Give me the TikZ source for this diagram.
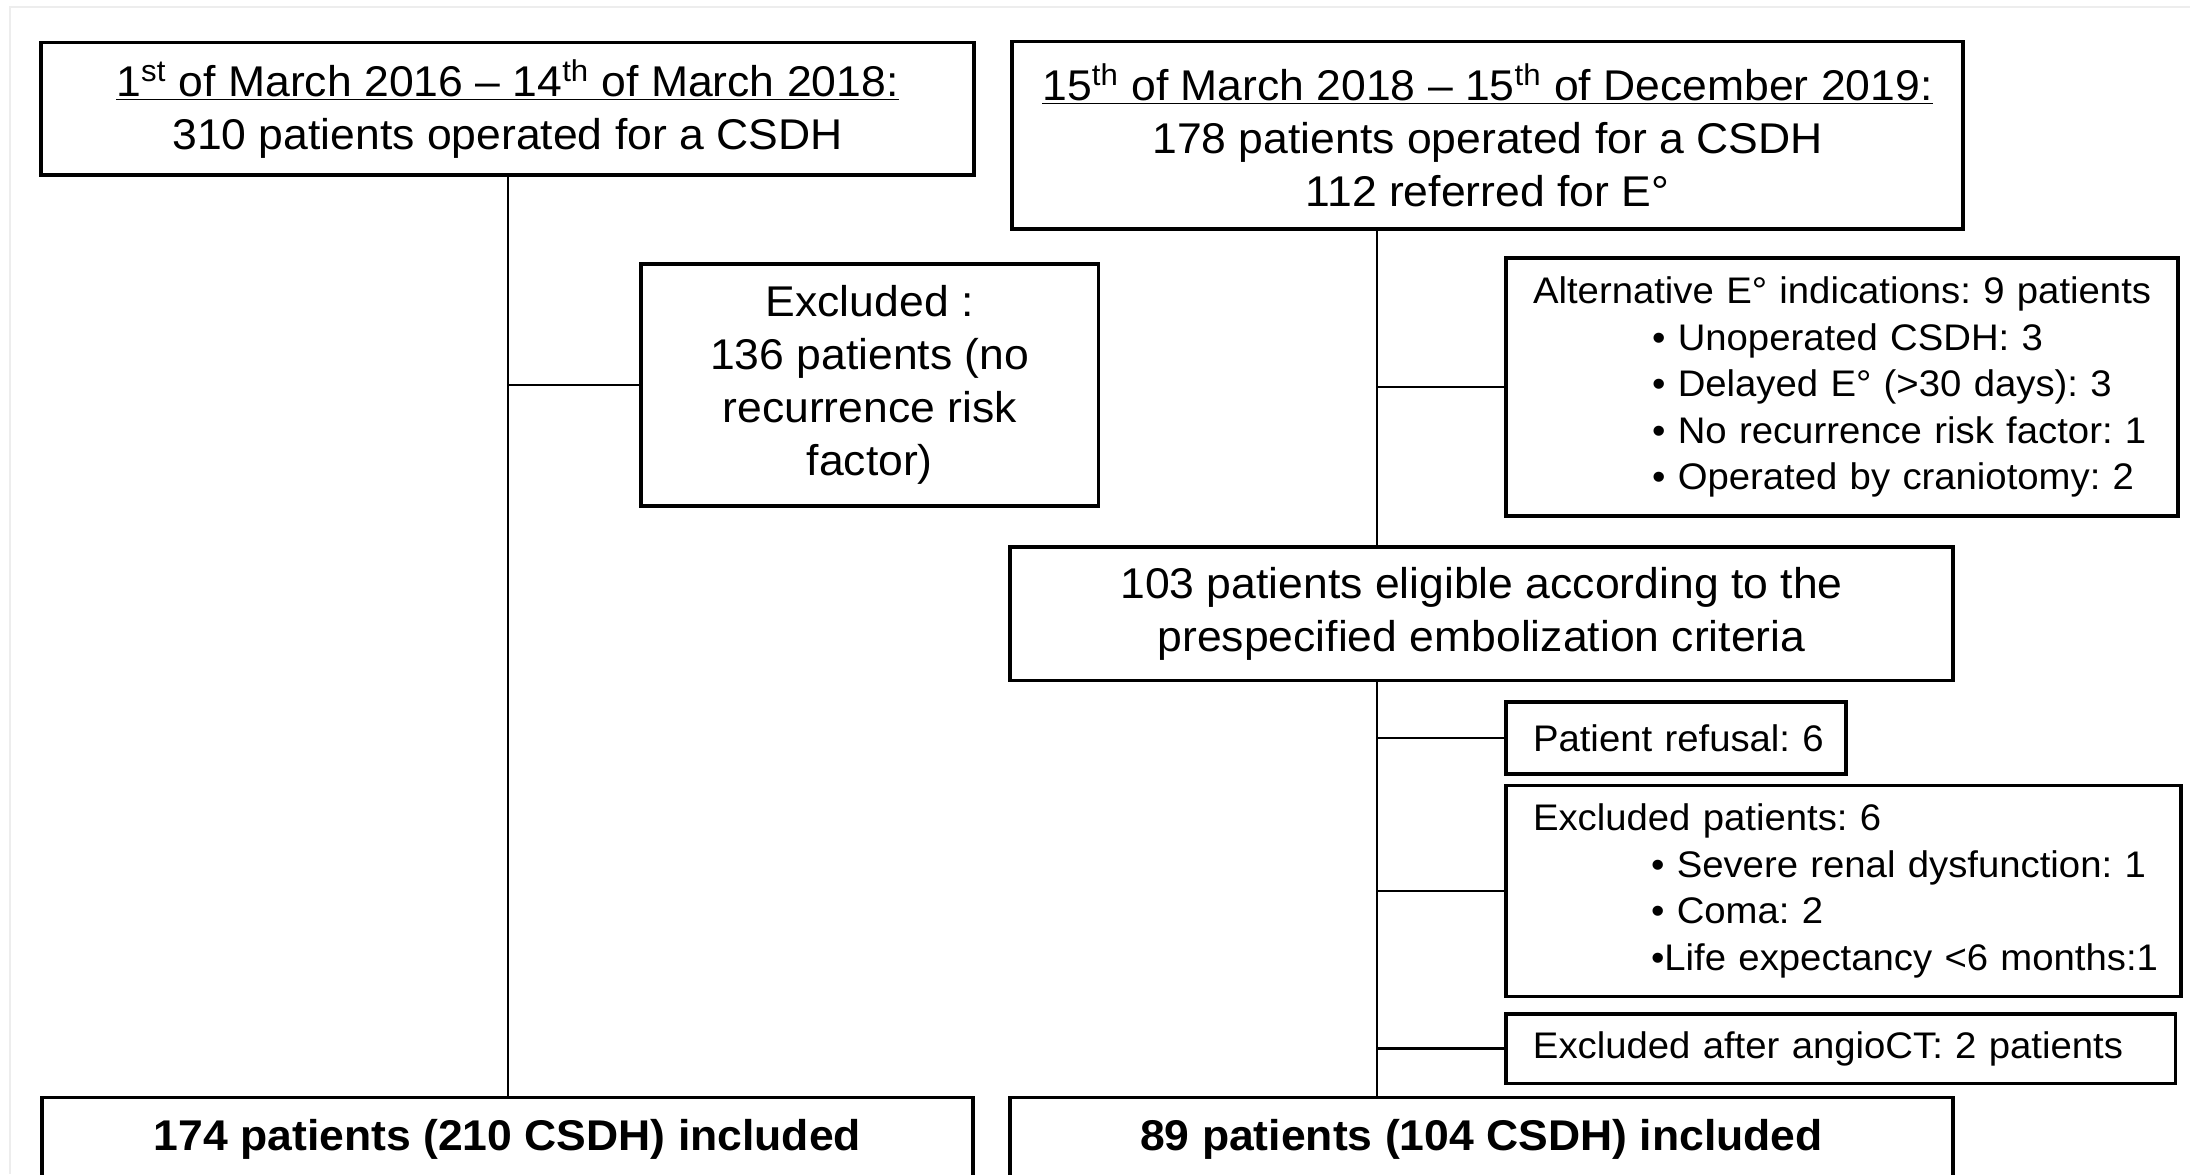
\documentclass[tikz,border=0pt]{standalone}
\usepackage{fontspec}
\setmainfont{Liberation Sans}[FakeStretch=1.035]
\newcommand\oneline[1]{\mbox{#1}}
\begin{document}
\frenchspacing
\begin{tikzpicture}[x=0.5pt,y=-0.5pt,
  mainbox/.style={draw=black, line width=1.75pt, inner sep=0pt, align=center,
    font=\fontsize{21.5}{26.5}\selectfont},
  listbox/.style={draw=black, line width=1.75pt, inner xsep=13.5pt, inner ysep=0pt, align=left,
    font=\fontsize{18.5}{23.25}\selectfont},
  link/.style={draw=black, line width=1.45pt},
  frame/.style={draw=black!7, line width=1pt}]
\useasboundingbox (0,0) rectangle (2190,1174);
\clip (0,0) rectangle (2190,1174);
\draw[frame] (10,1174) -- (10,7) -- (2190,7);

% spines
\coordinate (ls) at (508,0);
\coordinate (rs) at (1377,0);

% left column
\node[mainbox, minimum width=466.5pt, minimum height=66.25pt] (b1) at (507.5,108.7)
  {\underline{1\textsuperscript{st} of March 2016 – 14\textsuperscript{th} of March 2018:}\\310 patients operated for a CSDH};
\node[mainbox, minimum width=228.75pt, minimum height=121pt] (ex1) at (869.7,385)
  {Excluded :\\136 patients (no\\recurrence risk\\factor)};
\node[mainbox, minimum width=465.5pt, minimum height=41.75pt, font=\fontsize{21.5}{26.5}\selectfont\bfseries] (inc1) at (507.5,1139.2)
  {174 patients (210 CSDH) included};

% right column
\node[mainbox, minimum width=475.5pt, minimum height=93.75pt] (b2) at (1487.5,135.2)
  {\underline{15\textsuperscript{th} of March 2018 – 15\textsuperscript{th} of December 2019:}\\178 patients operated for a CSDH\\112 referred for E°};
\node[listbox, text width=309pt, minimum height=129pt] (alt) at (1842,387)
  {\oneline{Alternative E° indications: 9 patients}\\
   \oneline{\hspace*{59.5pt}• Unoperated CSDH: 3}\\
   \oneline{\hspace*{59.5pt}• Delayed E° (>30 days): 3}\\
   \oneline{\hspace*{59.5pt}• No recurrence risk factor: 1}\\
   \oneline{\hspace*{59.5pt}• Operated by craniotomy: 2}};
\node[mainbox, minimum width=471.5pt, minimum height=66.75pt] (elig) at (1481.5,613.7)
  {103 patients eligible according to the\\prespecified embolization criteria};
\node[listbox, text width=143pt, minimum height=36pt] (ref) at (1676,738)
  {\oneline{Patient refusal: 6}};
\node[listbox, text width=310.5pt, minimum height=105.5pt] (ex2) at (1843.5,891)
  {\oneline{Excluded patients: 6}\\
   \oneline{\hspace*{59pt}• Severe renal dysfunction: 1}\\
   \oneline{\hspace*{59pt}• Coma: 2}\\
   \oneline{\hspace*{59pt}•Life expectancy <6 months:1}};
\node[listbox, text width=307.75pt, minimum height=34.75pt] (ang) at (1840.7,1048.7)
  {\oneline{Excluded after angioCT: 2 patients}};
\node[mainbox, minimum width=471.5pt, minimum height=41.75pt, font=\fontsize{21.5}{26.5}\selectfont\bfseries] (inc2) at (1481.5,1139.2)
  {89 patients (104 CSDH) included};

% connectors
\draw[link] (b1.south -| ls) -- (inc1.north -| ls);
\draw[link] (ex1.west -| ls) -- (ex1.west);
\draw[link] (b2.south -| rs) -- (elig.north -| rs);
\draw[link] (alt.west -| rs) -- (alt.west);
\draw[link] (elig.south -| rs) -- (inc2.north -| rs);
\draw[link] (ref.west -| rs) -- (ref.west);
\draw[link] (ex2.west -| rs) -- (ex2.west);
\draw[link] (ang.west -| rs) -- (ang.west);
\end{tikzpicture}
\end{document}
